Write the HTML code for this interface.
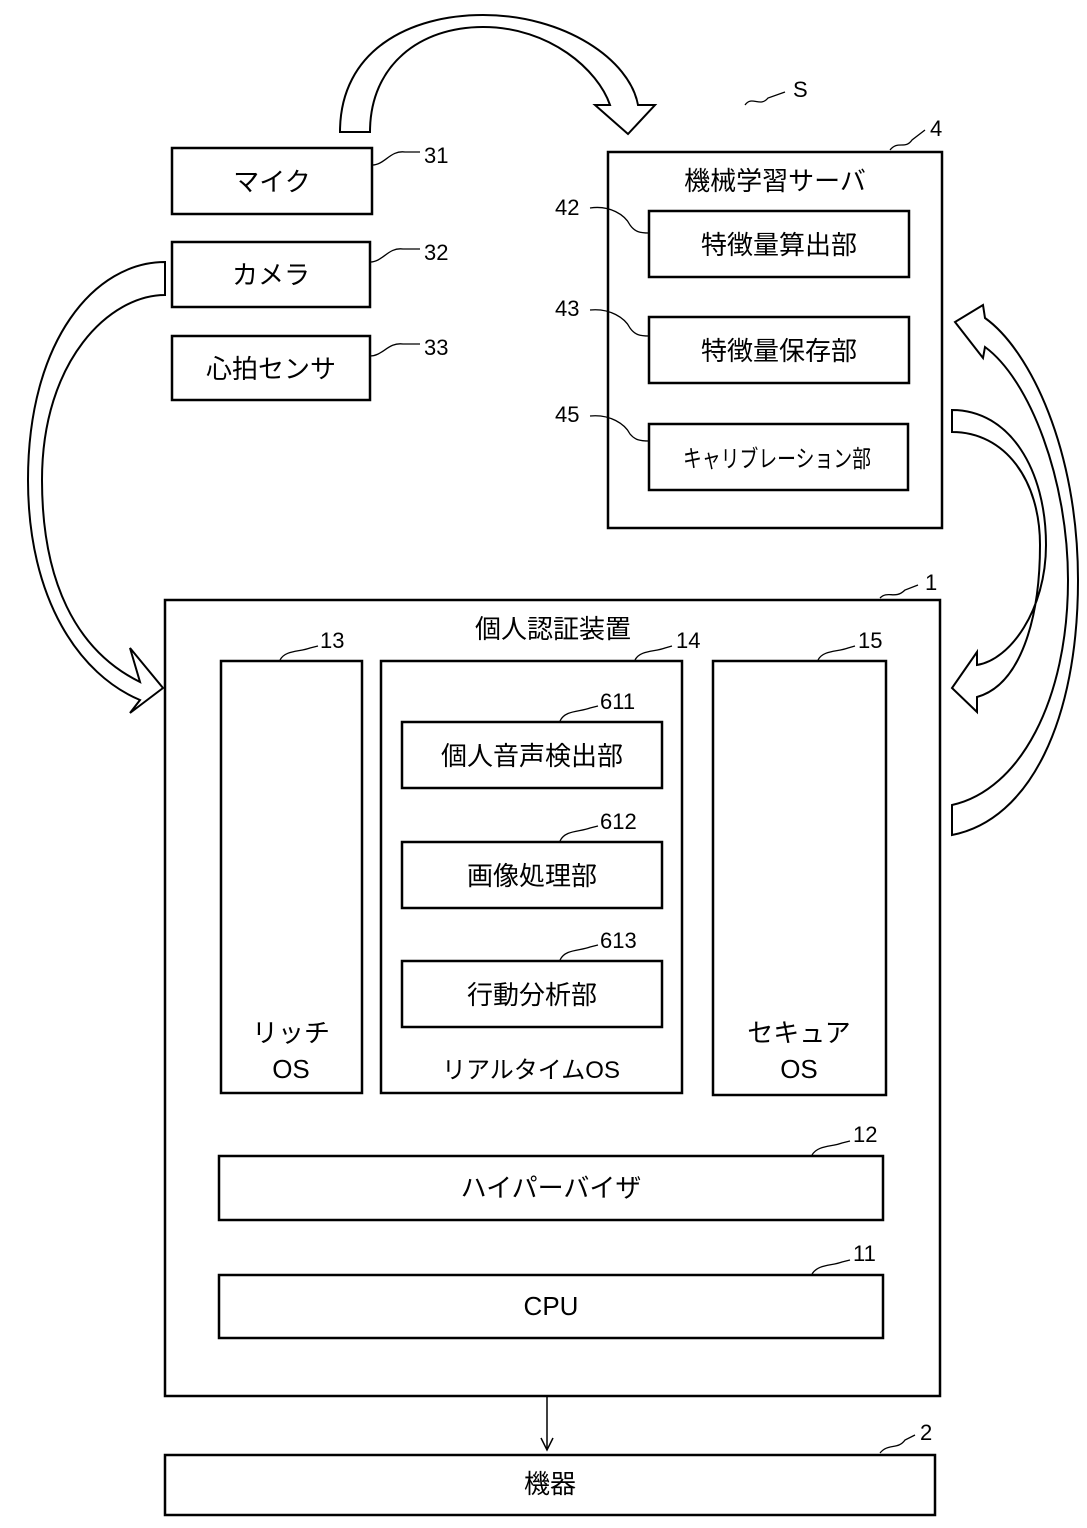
<!DOCTYPE html>
<html><head><meta charset="utf-8"><style>
body{margin:0;background:#fff}
svg{display:block}
text{font-family:"Liberation Sans","Noto Sans CJK JP",sans-serif;fill:#000}
.b{fill:none;stroke:#000;stroke-width:2.5}
.l{fill:none;stroke:#000;stroke-width:1.3}
.a{fill:#fff;stroke:#000;stroke-width:2}
</style></head><body>
<svg width="1087" height="1528" viewBox="0 0 1087 1528">
<path class="a" d="M340,132 C340,50 410,15 483,15 C565,15 630,60 638,105 L655,105 L628,134 L595,105 L610,105 C598,70 550,27 483,27 C420,27 370,65 370,132 Z"/>
<text x="793" y="97" font-size="22">S</text>
<path class="l" d="M745,105 C752,95 760,108 768,98 L785,92"/>
<path class="a" d="M165,262 C95,262 28,340 28,480 C28,600 80,675 140,700 L130,713 L163,688 L130,648 L140,682 C75,650 42,580 42,480 C42,360 110,295 165,295 Z"/>
<path class="a" d="M952,835 C1030,820 1078,720 1078,580 C1078,450 1030,350 985,318 L983,305 L955,322 L983,358 L985,347 C1030,380 1068,480 1068,580 C1068,700 1020,790 952,805 Z"/>
<path class="a" d="M952,410 C1010,410 1046,470 1046,545 C1046,610 1010,660 977,665 L977,652 L952,688 L977,712 L977,697 C1020,685 1040,620 1040,545 C1040,480 1005,432 952,432 Z"/>
<rect class="b" x="172" y="148" width="200" height="66"/>
<text x="272" y="191" font-size="26" text-anchor="middle">マイク</text>
<rect class="b" x="172" y="242" width="198" height="65"/>
<text x="271" y="284" font-size="26" text-anchor="middle">カメラ</text>
<rect class="b" x="172" y="336" width="198" height="64"/>
<text x="271" y="378" font-size="26" text-anchor="middle">心拍センサ</text>
<path class="l" d="M372,165 C385,165 390,150 405,152 L420,152"/><text x="424" y="163" font-size="22">31</text>
<path class="l" d="M370,262 C383,262 388,247 403,249 L420,249"/><text x="424" y="260" font-size="22">32</text>
<path class="l" d="M370,356 C383,356 388,342 403,344 L420,344"/><text x="424" y="355" font-size="22">33</text>
<rect class="b" x="608" y="152" width="334" height="376"/>
<text x="775" y="190" font-size="26" text-anchor="middle">機械学習サーバ</text>
<path class="l" d="M890,150 C898,140 905,150 912,140 L925,130"/><text x="930" y="136" font-size="22">4</text>
<rect class="b" x="649" y="211" width="260" height="66"/>
<text x="779" y="254" font-size="26" text-anchor="middle">特徴量算出部</text>
<rect class="b" x="649" y="317" width="260" height="66"/>
<text x="779" y="360" font-size="26" text-anchor="middle">特徴量保存部</text>
<rect class="b" x="649" y="424" width="259" height="66"/>
<text x="683" y="467" font-size="24" textLength="188" lengthAdjust="spacingAndGlyphs">キャリブレーション部</text>
<text x="555" y="215" font-size="22">42</text><path class="l" d="M590,208 C610,205 625,215 630,225 C635,232 640,233 649,233"/>
<text x="555" y="316" font-size="22">43</text><path class="l" d="M590,310 C610,308 625,318 630,328 C635,335 640,336 649,336"/>
<text x="555" y="422" font-size="22">45</text><path class="l" d="M590,416 C610,414 625,424 630,434 C635,440 640,441 649,441"/>
<rect class="b" x="165" y="600" width="775" height="796"/>
<text x="553" y="638" font-size="26" text-anchor="middle">個人認証装置</text>
<path class="l" d="M880,598 C888,590 895,600 905,590 L918,585"/><text x="925" y="590" font-size="22">1</text>
<rect class="b" x="221" y="661" width="141" height="432"/>
<text x="291" y="1042" font-size="26" text-anchor="middle">リッチ</text>
<text x="291" y="1078" font-size="26" text-anchor="middle">OS</text>
<path class="l" d="M280,660 C285,650 300,652 310,648 L318,646"/><text x="320" y="648" font-size="22">13</text>
<rect class="b" x="381" y="661" width="301" height="432"/>
<text x="531" y="1078" font-size="24" text-anchor="middle">リアルタイムOS</text>
<path class="l" d="M635,660 C640,650 655,652 665,648 L672,646"/><text x="676" y="648" font-size="22">14</text>
<rect class="b" x="713" y="661" width="173" height="434"/>
<text x="799" y="1042" font-size="26" text-anchor="middle">セキュア</text>
<text x="799" y="1078" font-size="26" text-anchor="middle">OS</text>
<path class="l" d="M818,660 C823,650 838,652 848,648 L855,646"/><text x="858" y="648" font-size="22">15</text>
<rect class="b" x="402" y="722" width="260" height="66"/>
<text x="532" y="765" font-size="26" text-anchor="middle">個人音声検出部</text>
<path class="l" d="M560,721 C565,710 580,712 590,708 L598,706"/><text x="600" y="709" font-size="22">611</text>
<rect class="b" x="402" y="842" width="260" height="66"/>
<text x="532" y="885" font-size="26" text-anchor="middle">画像処理部</text>
<path class="l" d="M560,841 C565,830 580,832 590,828 L598,826"/><text x="600" y="829" font-size="22">612</text>
<rect class="b" x="402" y="961" width="260" height="66"/>
<text x="532" y="1004" font-size="26" text-anchor="middle">行動分析部</text>
<path class="l" d="M560,960 C565,949 580,951 590,947 L598,945"/><text x="600" y="948" font-size="22">613</text>
<rect class="b" x="219" y="1156" width="664" height="64"/>
<text x="551" y="1197" font-size="26" text-anchor="middle">ハイパーバイザ</text>
<path class="l" d="M812,1155 C818,1145 832,1147 842,1143 L850,1141"/><text x="853" y="1142" font-size="22">12</text>
<rect class="b" x="219" y="1275" width="664" height="63"/>
<text x="551" y="1315" font-size="26" text-anchor="middle">CPU</text>
<path class="l" d="M812,1274 C818,1264 832,1266 842,1262 L850,1260"/><text x="853" y="1261" font-size="22">11</text>
<line x1="547" y1="1397" x2="547" y2="1448" stroke="#000" stroke-width="1.5"/>
<path d="M541,1438 L547,1450 L553,1438" fill="none" stroke="#000" stroke-width="1.5"/>
<rect class="b" x="165" y="1455" width="770" height="60"/>
<text x="550" y="1493" font-size="26" text-anchor="middle">機器</text>
<path class="l" d="M880,1453 C888,1443 898,1450 905,1440 L915,1435"/><text x="920" y="1440" font-size="22">2</text>
</svg>
</body></html>
